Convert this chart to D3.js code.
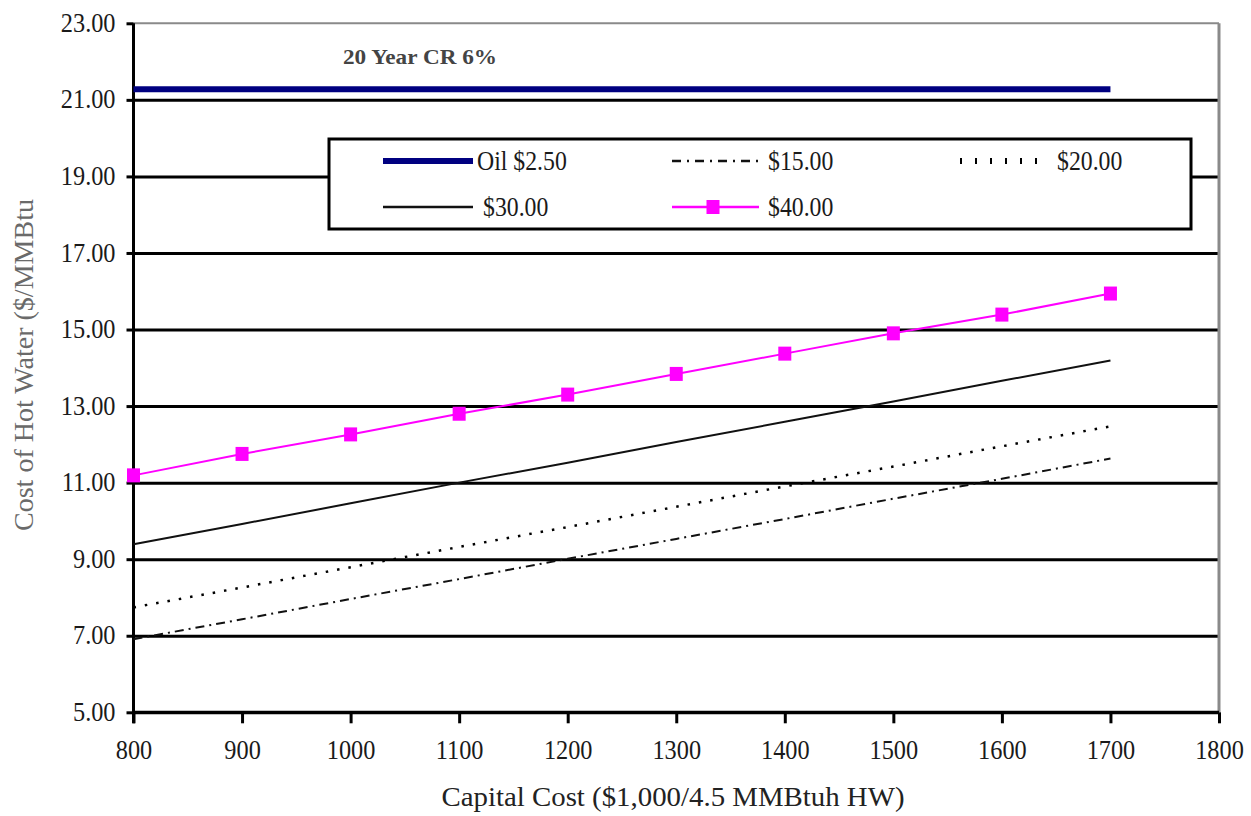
<!DOCTYPE html>
<html><head><meta charset="utf-8">
<script src="https://cdn.jsdelivr.net/npm/d3@7/dist/d3.min.js"></script>
<style>
html,body{margin:0;padding:0;background:#fff;}
svg{display:block;}
svg text{font-family:"Liberation Serif","Times New Roman",serif;}
</style></head>
<body><svg id="c" width="1251" height="816"></svg>
<script>
// ---- data ----
const capitalCost = [800, 900, 1000, 1100, 1200, 1300, 1400, 1500, 1600, 1700];
const oil250 = [21.28, 21.28, 21.28, 21.28, 21.28, 21.28, 21.28, 21.28, 21.28, 21.28];
const gas15 = [6.91, 7.43, 7.96, 8.48, 9.01, 9.53, 10.05, 10.58, 11.10, 11.63];
const gas20 = [7.74, 8.26, 8.79, 9.32, 9.84, 10.37, 10.90, 11.42, 11.95, 12.47];
const gas30 = [9.39, 9.92, 10.46, 11.00, 11.52, 12.06, 12.59, 13.12, 13.66, 14.19];
const gas40 = [11.19, 11.75, 12.26, 12.80, 13.30, 13.84, 14.37, 14.90, 15.39, 15.94];
const seriesNames = ["Oil $2.50", "$15.00", "$20.00", "$30.00", "$40.00"];
const xTicks = [800, 900, 1000, 1100, 1200, 1300, 1400, 1500, 1600, 1700, 1800];
const yTicks = [5, 7, 9, 11, 13, 15, 17, 19, 21, 23];
const xTitle = "Capital Cost ($1,000/4.5 MMBtuh HW)";
const yTitle = "Cost of Hot Water ($/MMBtu";
const noteText = "20 Year CR 6%";

// ---- layout ----
const FONT = "Liberation Serif";
const svg = d3.select("#c");
const L = 133.5, R = 1219, T = 23.3, B = 712.3;
const x = d3.scaleLinear().domain([800, 1800]).range([L, R]);
const y = d3.scaleLinear().domain([5, 23]).range([B, T]);

// make text taller but condensed, like the reference
function condense(sel, factor) {
  sel.each(function () {
    const w = this.getComputedTextLength();
    d3.select(this).attr("textLength", w * factor).attr("lengthAdjust", "spacingAndGlyphs");
  });
}

// gridlines
const grid = svg.append("g").attr("transform", `translate(${L},0)`)
  .call(d3.axisLeft(y).tickValues(yTicks.filter(v => v < 23)).tickSize(-(R - L)).tickFormat(""));
grid.select(".domain").remove();
grid.selectAll("line").attr("stroke", "#000").attr("stroke-width", 3);

// top border (grey) & right border
svg.append("line").attr("x1", L).attr("x2", R).attr("y1", y(23)).attr("y2", y(23))
  .attr("stroke", "#8a8a8a").attr("stroke-width", 2);
svg.append("line").attr("x1", R).attr("x2", R).attr("y1", y(23)).attr("y2", y(5))
  .attr("stroke", "#8a8a8a").attr("stroke-width", 3);

// y axis
const ya = svg.append("g").attr("transform", `translate(${L},0)`)
  .call(d3.axisLeft(y).tickValues(yTicks).tickSize(7).tickPadding(11).tickFormat(d3.format(".2f")));
ya.attr("font-family", FONT);
ya.select(".domain").attr("stroke", "#000").attr("stroke-width", 3).attr("d", `M0,${T}V${B + 11}`);
ya.selectAll(".tick line").attr("stroke", "#000").attr("stroke-width", 3);
ya.selectAll(".tick text").attr("font-size", 27).attr("fill", "#1a1a1a")
  .attr("font-family", FONT).attr("dy", "0.3em").call(condense, 0.9);

// x axis
const xa = svg.append("g").attr("transform", `translate(0,${B})`)
  .call(d3.axisBottom(x).tickValues(xTicks).tickSize(11).tickPadding(17).tickFormat(d3.format("d")));
xa.attr("font-family", FONT);
xa.select(".domain").attr("stroke", "#000").attr("stroke-width", 3).attr("d", `M${L},0H${R}`);
xa.selectAll(".tick line").attr("stroke", "#000").attr("stroke-width", 3);
xa.selectAll(".tick text").attr("font-size", 27).attr("fill", "#1a1a1a")
  .attr("font-family", FONT).attr("dy", "0.71em").call(condense, 0.9);

// axis titles
svg.append("text").attr("x", 673).attr("y", 806).attr("text-anchor", "middle")
  .attr("font-family", FONT).attr("font-size", 27).attr("fill", "#222")
  .attr("textLength", 463).attr("lengthAdjust", "spacingAndGlyphs").text(xTitle);
svg.append("text").attr("transform", "translate(33,365) rotate(-90)").attr("text-anchor", "middle")
  .attr("font-family", FONT).attr("font-size", 27).attr("fill", "#6a6a6a")
  .attr("textLength", 332).attr("lengthAdjust", "spacingAndGlyphs").text(yTitle);

// note
svg.append("text").attr("x", 343).attr("y", 64).attr("font-family", FONT)
  .attr("font-size", 21).attr("font-weight", "bold").attr("fill", "#444")
  .attr("textLength", 154).attr("lengthAdjust", "spacingAndGlyphs").text(noteText);

// series
const styles = [
  {data: oil250, color: "#000080", width: 6, dash: null, marker: false},
  {data: gas15, color: "#111", width: 2, dash: "9,5,2,5", marker: false},
  {data: gas20, color: "#000", width: 2.5, dash: "2.5,9", marker: false},
  {data: gas30, color: "#111", width: 2, dash: null, marker: false},
  {data: gas40, color: "#ff00ff", width: 2, dash: null, marker: true}
];
const line = d3.line().x(d => x(d[0])).y(d => y(d[1]));
styles.forEach(s => {
  const pts = capitalCost.map((c, i) => [c, s.data[i]]);
  const p = svg.append("path").datum(pts).attr("d", line).attr("fill", "none")
    .attr("stroke", s.color).attr("stroke-width", s.width);
  if (s.dash) p.attr("stroke-dasharray", s.dash);
  if (s.marker) {
    svg.append("g").selectAll("rect").data(pts).join("rect")
      .attr("x", d => x(d[0]) - 6.5).attr("y", d => y(d[1]) - 7)
      .attr("width", 13).attr("height", 14).attr("fill", "#ff00ff");
  }
});

// legend
const lg = svg.append("g");
lg.append("rect").attr("x", 329).attr("y", 139).attr("width", 862).attr("height", 90)
  .attr("fill", "#fff").attr("stroke", "#000").attr("stroke-width", 3);
const legPos = [
  {x1: 383, x2: 473, tx: 477, ty: 161},
  {x1: 672, x2: 759, tx: 768, ty: 161},
  {x1: 960, x2: 1042, tx: 1057, ty: 161},
  {x1: 383, x2: 473, tx: 483, ty: 207},
  {x1: 672, x2: 759, tx: 768, ty: 207}
];
styles.forEach((s, i) => {
  const p = legPos[i];
  const l = lg.append("line").attr("x1", p.x1).attr("x2", p.x2).attr("y1", p.ty).attr("y2", p.ty)
    .attr("stroke", s.color).attr("stroke-width", i === 0 ? 6 : (i === 2 ? 6 : 2.5));
  if (s.dash) l.attr("stroke-dasharray", i === 2 ? "2,13" : "9,6,2,6");
  if (s.marker) lg.append("rect").attr("x", 713 - 6.5).attr("y", p.ty - 7).attr("width", 13).attr("height", 14).attr("fill", "#ff00ff");
  lg.append("text").attr("x", p.tx).attr("y", p.ty).attr("dy", "0.33em")
    .attr("font-family", FONT).attr("font-size", 27)
    .attr("fill", "#1a1a1a").text(seriesNames[i]).call(condense, 0.88);
});
</script></body></html>
